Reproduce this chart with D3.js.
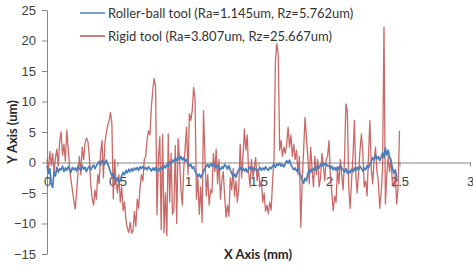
<!DOCTYPE html>
<html lang="en">
<head>
<meta charset="utf-8">
<title>Roller-ball vs rigid tool profile</title>
<script src="https://cdn.jsdelivr.net/npm/d3@7"></script>
<style>
  body { margin: 0; background: #fff; }
  svg { display: block; font-family: Lato, "Open Sans", sans-serif; }
  .axis path, .axis line { stroke: #868686; }
  .axis text { fill: #404040; font-size: 13px; }
  .title { font-weight: bold; font-size: 13px; fill: #262626; }
  .legend text { font-size: 13px; fill: #333; }
</style>
</head>
<body>
<div class="chart"></div>
<script>
// profile data, one value every 0.01 mm starting at x = 0
var xStart = 0, xStep = 0.01;

var rigid = [
  0.5, -1.2, 1.8, -0.5, 1.5, -1.8, 0.8, 2.2, -0.6, 3.5,
  5.0, 1.2, 3.0, 0.2, 5.3, 2.5, -1.0, -2.8, -4.5, -6.2,
  -7.6, -5.0, -1.5, 1.0, -2.0, 2.5, 0.5, 3.2, 4.0, 3.5,
  1.0, -3.5, -5.8, -7.0, -4.5, -6.0, -2.0, -3.5, 1.5, 3.6,
  -2.5, 3.0, 4.8, 6.0, 6.8, 8.2, 6.5, -6.0, 0.5, -3.5,
  -5.0, -2.0, -6.5, -4.0, -7.9, -6.5, -9.5, -10.8, -11.5, -9.8,
  -11.6, -11.2, -8.0, -10.5, -6.0, -7.5, -4.0, -2.0, -3.0, 0.5,
  1.0, 3.8, 5.2, 4.5, 9.0, 11.8, 13.8, 12.5, -8.6, 0.5,
  4.2, -11.0, 4.6, -11.5, -5.0, -12.0, 4.7, -6.5, 1.5, -8.5,
  -7.8, 2.8, -10.0, 3.9, 0.5, -4.5, -7.0, -1.0, 2.5, 5.8,
  -2.0, 8.0, 6.9, 8.5, 12.3, 10.5, -6.0, -2.5, -8.5, -4.0,
  -9.8, 8.5, 1.0, -5.5, -2.0, -7.0, -4.5, -5.0, 1.5, -1.5,
  2.2, -3.5, 0.5, -6.0, -3.0, -1.5, -5.5, -9.0, -7.0, -8.8,
  -2.5, -4.5, -1.0, -5.5, -3.0, -6.5, -4.0, 3.0, -2.5, 1.0,
  5.5, 2.0, 4.5, -1.5, -4.0, 0.5, -2.5, -1.0, 0.8, -3.0,
  -1.0, -4.0, -3.0, -6.5, -5.0, -8.0, -7.0, -8.4, -6.5, -7.8,
  -3.0, 0.5, 16.7, 19.5, 17.5, 2.0, 3.6, 1.0, 2.5, 1.5,
  3.0, 5.8, 2.5, 4.5, 1.0, 3.0, 0.5, 2.0, -2.0, 1.0,
  -10.6, -3.0, 2.0, 7.4, 4.0, 1.0, -3.5, 2.5, -1.0, -4.0,
  1.0, -2.0, 0.5, -4.0, -2.5, 1.5, -0.5, -3.0, 0.5, 1.0,
  3.6, -2.4, -5.0, -7.9, -5.5, -6.5, -1.0, -3.5, 0.5, -2.0,
  -4.5, 0.5, 9.6, 8.5, -4.0, -7.5, -3.0, 1.0, 6.9, -2.0,
  -5.0, -1.5, 2.0, 4.7, 1.5, -4.0, -3.0, -5.5, 1.0, 6.9,
  -1.0, -3.5, 0.5, 2.5, -1.5, -3.0, -7.5, -5.0, -1.0, 22.2,
  -6.8, -2.0, 1.0, -1.5, 0.5, -3.5, -4.0, -2.0, -6.8, -4.0,
  5.2
];

var rollerBall = [
  -0.5, -1.8, -1.0, -3.5, -4.1, -1.5, -2.2, -0.8, -1.6, -1.0,
  -1.2, -0.6, -1.5, -0.9, -1.3, -0.7, -1.1, -1.6, -0.8, -1.2,
  -0.9, -1.4, -0.6, -1.0, -1.3, -0.5, -1.1, -0.8, -1.5, -0.9,
  -0.6, -1.2, -0.8, -0.4, -1.0, -0.5, -0.2, 0.2, -0.4, 0.3,
  0.1, -0.3, 0.4, -0.2, -0.8, -1.5, -2.2, -1.8, -2.6, -3.0,
  -2.5, -3.3, -2.8, -2.2, -1.6, -2.0, -1.3, -1.7, -1.1, -1.5,
  -1.0, -1.4, -0.9, -1.2, -0.8, -1.3, -0.7, -1.0, -0.6, -1.1,
  -0.8, -1.2, -0.7, -1.0, -1.4, -0.9, -1.3, -0.8, -1.5, -1.0,
  -1.3, -0.8, -1.1, -0.5, -0.9, -0.3, -0.6, 0.1, -0.2, 0.4,
  0.2, 0.7, 0.3, 0.9, 0.5, 1.0, 0.4, 0.8, 0.2, 0.5,
  -0.2, -0.6, -0.3, -1.0, -0.7, -1.4, -1.8, -2.3, -1.9, -2.5,
  -2.0, -1.5, -1.0, -0.6, -0.3, -0.8, -0.2, -0.6, -0.1, -0.5,
  -0.9, -0.4, -0.8, -1.2, -0.7, -1.0, -0.3, -0.6, -1.1, -0.5,
  -1.2, -1.8, -2.3, -1.9, -2.4, -1.6, -1.2, -0.8, -1.3, -0.9,
  -1.4, -1.0, -1.6, -1.1, -0.7, -1.2, -0.8, -1.3, -1.0, -1.4,
  -1.1, -0.8, -1.3, -0.9, -1.2, -0.7, -1.1, -1.3, -0.8, -1.0,
  -0.6, -0.3, -0.8, -0.2, -0.5, -0.1, -0.6, -0.3, -0.7, -0.2,
  0.3, -0.1, 0.4, -0.4, -0.8, -1.2, -0.9, -1.4, -1.0, -1.6,
  -2.2, -2.8, -3.4, -2.6, -3.0, -1.8, -1.2, -1.6, -1.0, -1.3,
  -0.8, -1.2, -0.6, -0.9, -0.3, -0.6, -0.1, -0.4, -0.2, -0.6,
  -0.5, -1.0, -0.6, -1.2, -0.8, -1.3, -0.7, -1.1, -0.5, -0.9,
  -1.2, -1.6, -1.0, -1.8, -1.3, -1.7, -1.1, -1.5, -0.9, -1.4,
  -0.8, -1.2, -0.6, -1.0, -1.4, -0.9, -1.2, -0.5, -0.9, -0.3,
  0.2, 0.8, 0.4, 1.2, 0.6, 1.0, 0.3, 0.9, 1.6, 0.8,
  2.4, 1.2, 2.0, 0.9, 0.3, -1.0, -1.8, -1.2, -2.4
];

var seriesNames = [
  "Roller-ball tool (Ra=1.145um, Rz=5.762um)",
  "Rigid tool (Ra=3.807um, Rz=25.667um)"
];
var seriesColors = ["#4a7ebb", "#c0504d"];

var xTicks = [0, 0.5, 1, 1.5, 2, 2.5, 3];
var yTicks = [-15, -10, -5, 0, 5, 10, 15, 20, 25];

var width = 473, height = 266;

var x = d3.scaleLinear().domain([0, 3]).range([47, 470]);
var y = d3.scaleLinear().domain([-15, 25]).range([254, 10]);

var svg = d3.select("div.chart").append("svg")
    .attr("width", width)
    .attr("height", height);

// axes
svg.append("g")
    .attr("class", "axis")
    .attr("transform", "translate(47,0)")
    .call(d3.axisLeft(y).tickValues(yTicks).tickFormat(d3.format("d"))
      .tickSize(5).tickSizeOuter(0).tickPadding(6));

svg.append("g")
    .attr("class", "axis")
    .attr("transform", "translate(0," + y(0) + ")")
    .call(d3.axisBottom(x).tickValues(xTicks).tickFormat(function(d) { return String(d); })
      .tickSize(4).tickSizeOuter(0).tickPadding(10));

var line = d3.line()
    .x(function(d, i) { return x(xStart + i * xStep); })
    .y(function(d) { return y(d); });

// rigid tool first, roller-ball on top
svg.append("path")
    .datum(rigid)
    .attr("fill", "none")
    .attr("stroke", seriesColors[1])
    .attr("stroke-width", 1.3)
    .attr("stroke-opacity", 0.85)
    .attr("stroke-linejoin", "round")
    .attr("d", line);

svg.append("path")
    .datum(rollerBall)
    .attr("fill", "none")
    .attr("stroke", seriesColors[0])
    .attr("stroke-width", 1.7)
    .attr("stroke-linejoin", "round")
    .attr("d", line);

// axis titles
svg.append("text")
    .attr("class", "title")
    .attr("transform", "translate(17,132)rotate(-90)")
    .attr("text-anchor", "middle")
    .text("Y Axis (um)");

svg.append("text")
    .attr("class", "title")
    .attr("x", 258)
    .attr("y", 259)
    .attr("text-anchor", "middle")
    .text("X Axis (mm)");

// legend
var legend = svg.append("g").attr("class", "legend");
var rows = legend.selectAll("g")
    .data(seriesNames)
  .enter().append("g")
    .attr("transform", function(d, i) { return "translate(80," + (13 + i * 23) + ")"; });

rows.append("line")
    .attr("x1", 0).attr("x2", 25)
    .attr("stroke", function(d, i) { return seriesColors[i]; })
    .attr("stroke-width", 1.5);

rows.append("text")
    .attr("x", 28)
    .attr("dy", "0.35em")
    .text(function(d) { return d; });
</script>
</body>
</html>
